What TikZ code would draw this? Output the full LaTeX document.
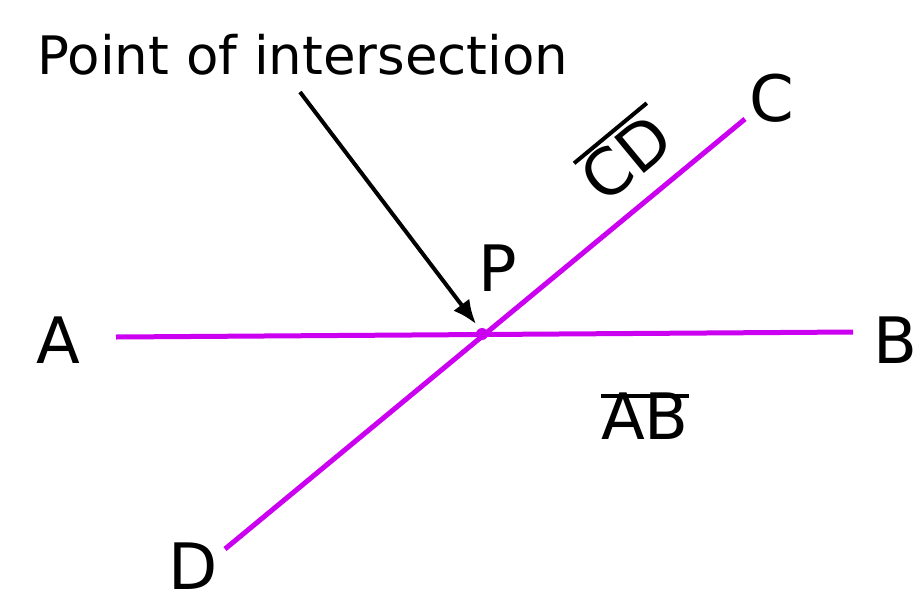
\documentclass[tikz,border=0pt]{standalone}
\usepackage{fontspec}
\setmainfont{DejaVu Sans}
\usetikzlibrary{arrows.meta}
\definecolor{mag}{RGB}{204,0,240}
\begin{document}
\begin{tikzpicture}[x=1pt,y=-1pt,
  seg/.style={mag,line width=5pt},
  bar/.style={line width=4pt},
  lbl/.style={font=\fontsize{64}{70}\selectfont,inner sep=0pt}]
\useasboundingbox (0,0) rectangle (922,598);
\coordinate (A0) at (116,337);
\coordinate (B0) at (853,332);
\coordinate (C0) at (745,119);
\coordinate (D0) at (225,549);
\coordinate (P) at (482,334);
\draw[seg] (A0) -- (B0);
\draw[seg] (D0) -- (C0);
\fill[mag] (P) circle (6);
\node[lbl] (A) at (58,340) {A};
\node[lbl] (B) at (895,340) {B};
\node[lbl] (C) at (772,98) {C};
\node[lbl] (D) at (193,566) {D};
\node[lbl] (Pl) at (498,268) {P};
\node[lbl,rotate=39.6] (CD) at (626,158) {CD};
\draw[bar] ([yshift=6pt]CD.north west) -- ([yshift=6pt]CD.north east);
\node[lbl] (AB) at (645,416) {AB};
\draw[bar] ([yshift=-4pt]AB.north west) -- ([yshift=-4pt]AB.north east);
\node[font=\fontsize{53}{58}\selectfont,inner sep=0pt] (T) at (303,55) {Point of intersection};
\coordinate (ts) at (300,92);
\draw[line width=4pt,-{Latex[length=24pt,width=20pt]}] (ts) -- (476,324);
\end{tikzpicture}
\end{document}
